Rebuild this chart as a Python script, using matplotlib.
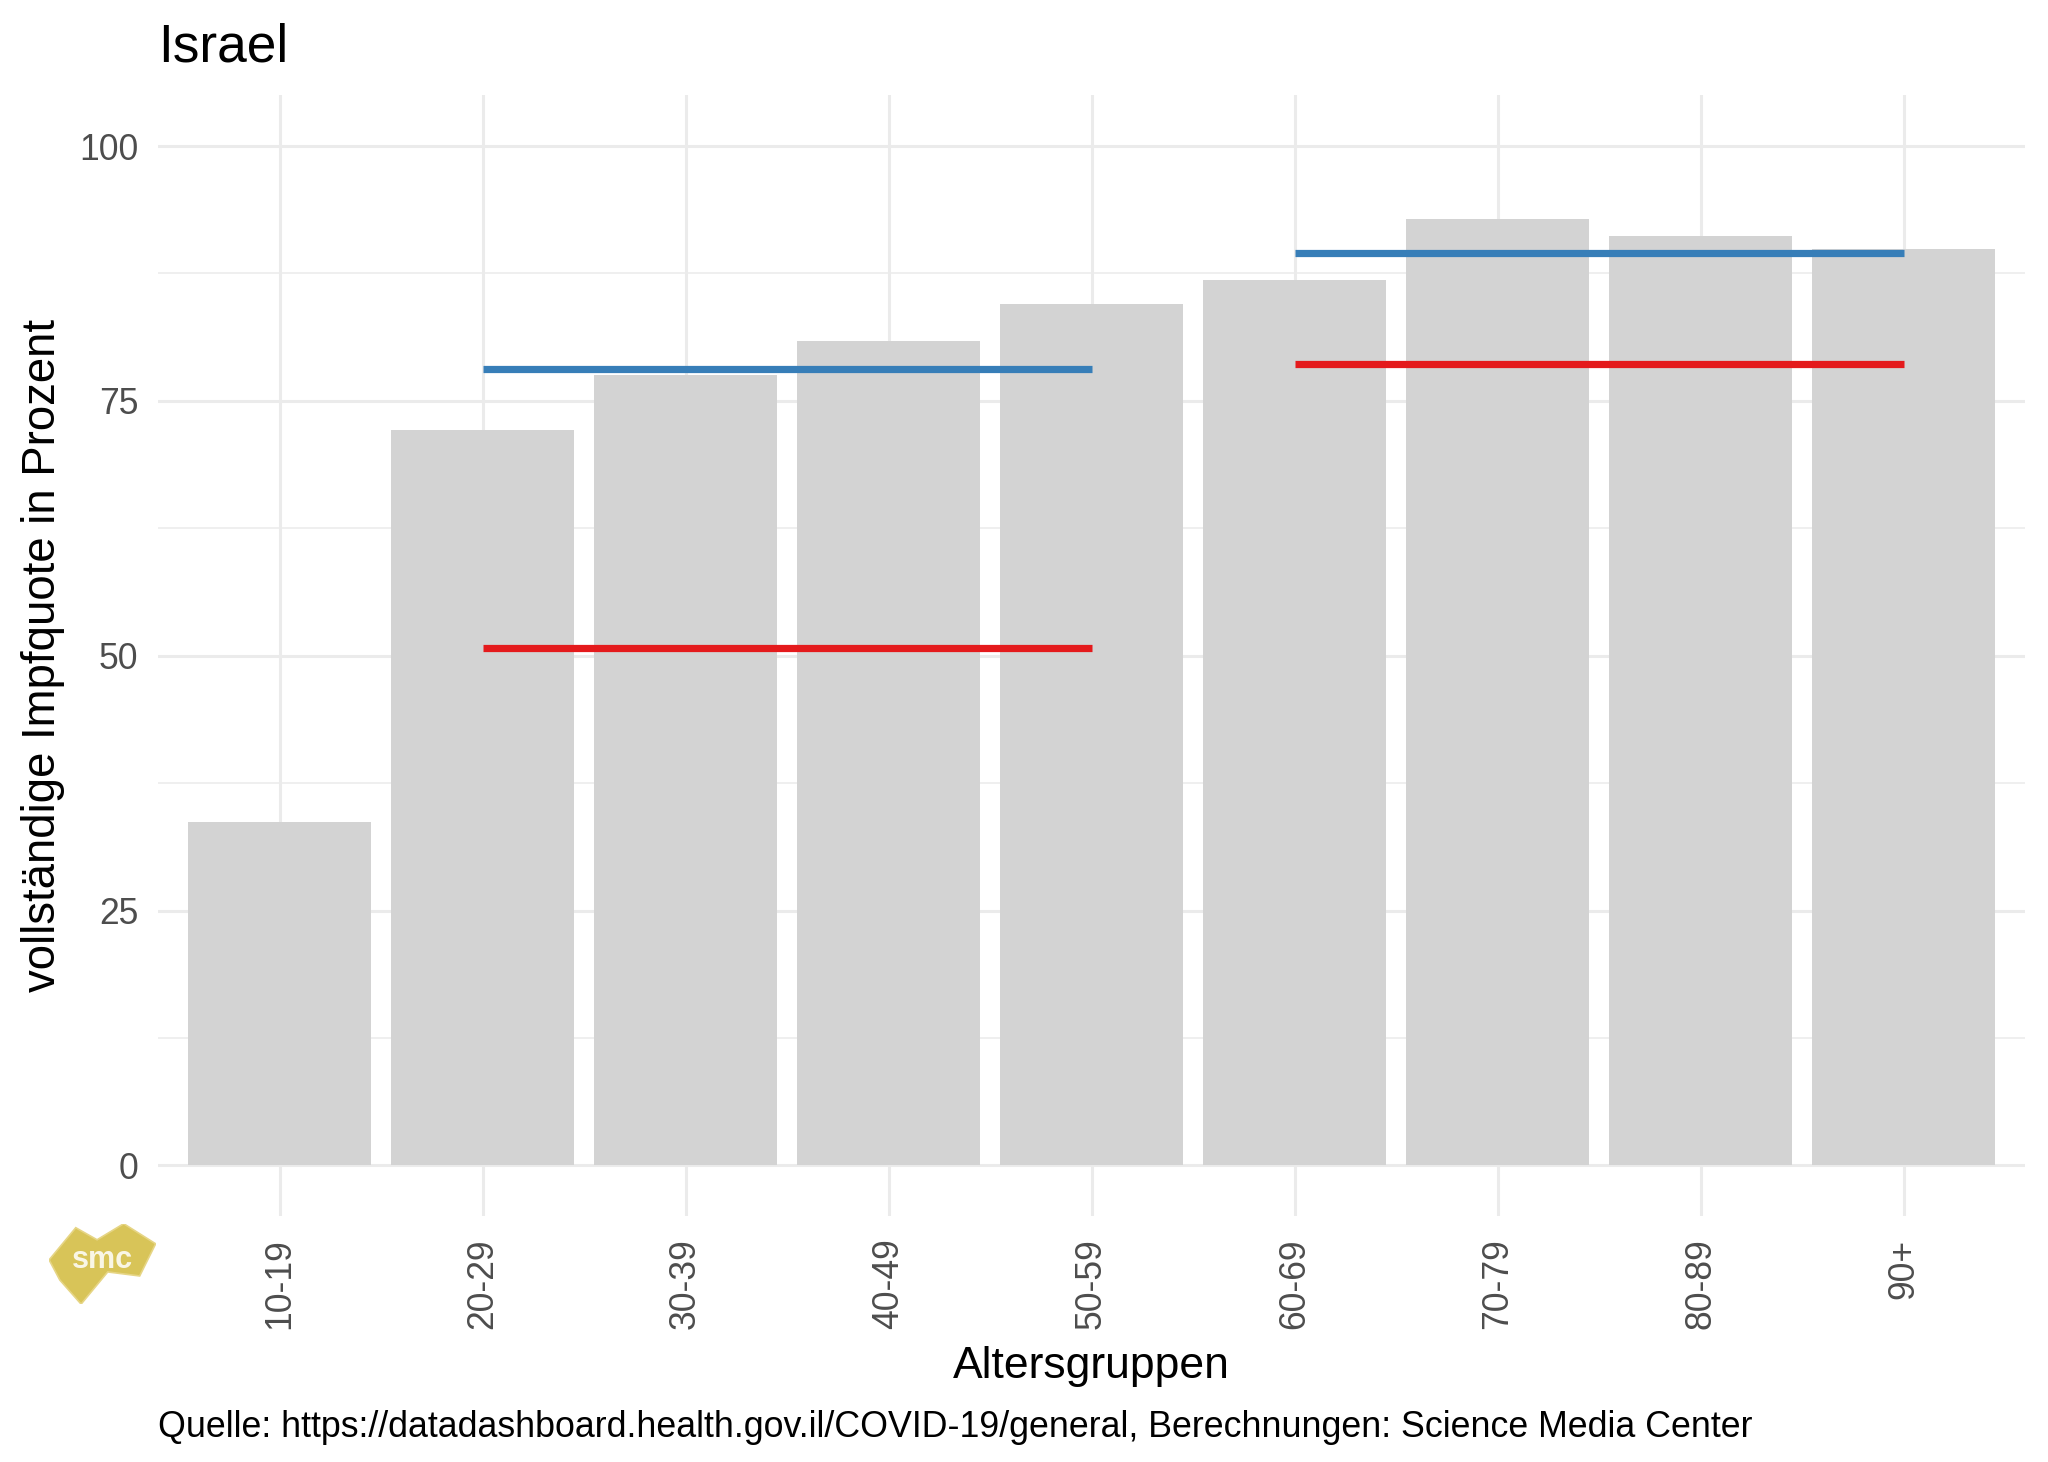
import numpy as np
import matplotlib
matplotlib.use('Agg')
from matplotlib import pyplot as plt
from matplotlib.patches import Polygon

plt.rcParams['font.family'] = ['Liberation Sans', 'DejaVu Sans']

# data
altersgruppen = ['10-19', '20-29', '30-39', '40-49', '50-59', '60-69', '70-79', '80-89', '90+']
impfquote = [33.7, 72.1, 77.5, 80.9, 84.5, 86.9, 92.8, 91.2, 89.9]

# reference lines: (start group, end group, value)
blau_start = ['20-29', '60-69']
blau_ende = ['50-59', '90+']
blau_wert = [78.1, 89.5]
rot_start = ['20-29', '60-69']
rot_ende = ['50-59', '90+']
rot_wert = [50.8, 78.6]

grey30 = '#4D4D4D'
grid_c = '#EBEBEB'

fig = plt.figure(figsize=(10.24, 7.31), dpi=200)
ax = fig.add_axes([0.077, 0.168, 0.912, 0.767])

x = np.arange(len(altersgruppen))
ax.bar(x, impfquote, width=0.9, color='#D3D3D3', zorder=2)

pos = {k: i for i, k in enumerate(altersgruppen)}
for s, e, v in zip(blau_start, blau_ende, blau_wert):
    ax.plot([pos[s], pos[e]], [v, v], color='#377EB8', lw=2.6,
            solid_capstyle='butt', zorder=3)
for s, e, v in zip(rot_start, rot_ende, rot_wert):
    ax.plot([pos[s], pos[e]], [v, v], color='#E41A1C', lw=2.6,
            solid_capstyle='butt', zorder=3)

ax.set_xlim(-0.6, len(altersgruppen) - 0.4)
ax.set_ylim(-5, 105)
ax.set_xticks(x)
ax.set_xticklabels(altersgruppen, rotation=90, va='top', ha='center')
ax.set_yticks([0, 25, 50, 75, 100])
ax.set_yticks([12.5, 37.5, 62.5, 87.5], minor=True)
ax.grid(True, which='major', color=grid_c, lw=1.1, zorder=0)
ax.grid(True, which='minor', axis='y', color=grid_c, lw=0.55, zorder=0)
ax.set_axisbelow(True)
for sp in ax.spines.values():
    sp.set_visible(False)
ax.tick_params(axis='both', which='both', length=0, labelsize=12.8, labelcolor=grey30)
ax.tick_params(axis='x', pad=8)
ax.tick_params(axis='y', pad=7)

ax.set_xlabel('Altersgruppen', fontsize=16, color='black', labelpad=6)
ax.set_ylabel('vollständige Impfquote in Prozent', fontsize=16.4, color='black', labelpad=5)

fig.text(0.077, 0.958, 'Israel', fontsize=19.2, color='black', ha='left', va='baseline')
fig.text(0.077, 0.017,
         'Quelle: https://datadashboard.health.gov.il/COVID-19/general, Berechnungen: Science Media Center',
         fontsize=12.9, color='black', ha='left', va='baseline')

# smc logo (rough)
lax = fig.add_axes([0.024, 0.108, 0.052, 0.055])
lax.set_xlim(0, 1)
lax.set_ylim(0, 1)
lax.axis('off')
shape = [(0.0, 0.55), (0.25, 0.95), (0.45, 0.8), (0.7, 1.0), (1.0, 0.75),
         (0.85, 0.35), (0.55, 0.4), (0.3, 0.0), (0.1, 0.3)]
lax.add_patch(Polygon(shape, closed=True, facecolor='#D8C458', edgecolor='#E6D585', lw=0.6))
lax.text(0.5, 0.55, 'smc', color='white', fontsize=11, fontweight='bold',
         ha='center', va='center', alpha=0.85)

plt.savefig('out.png', dpi=200)
